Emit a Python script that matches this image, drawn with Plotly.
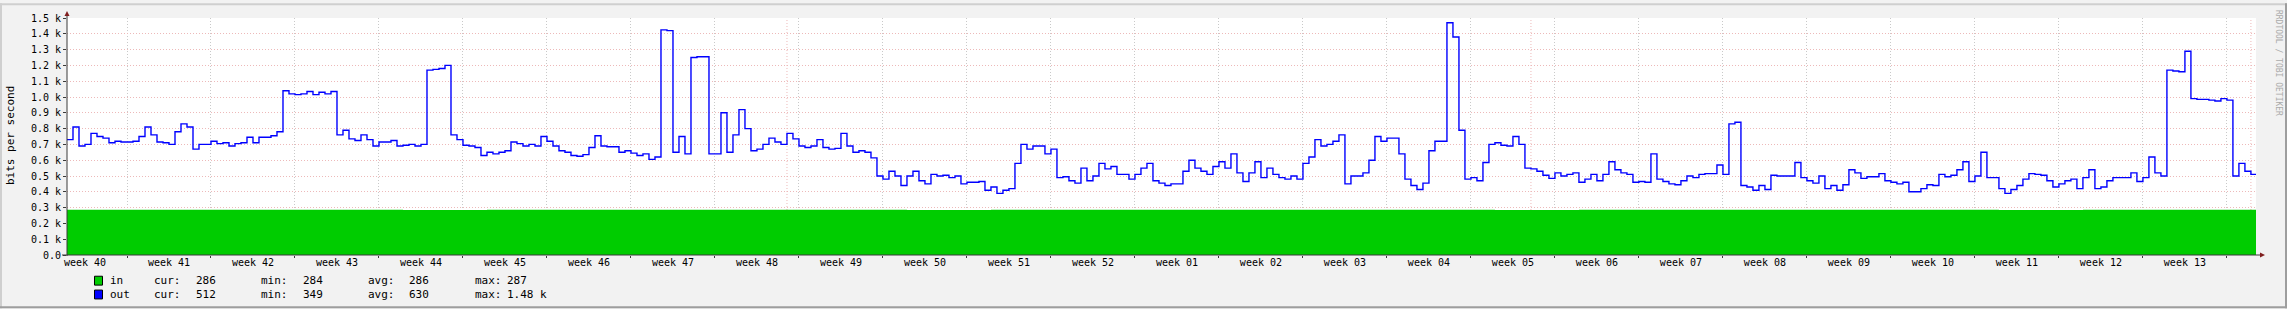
import pandas as pd
import plotly.graph_objects as go

# ---------------- data ----------------
START = "2019-10-02 00:00"
END = "2020-04-01 10:10"
OUT_STEP = "12h"
IN_STEP = "7D"

out_bits = [
    730, 810, 690, 700, 770, 750, 740, 710, 720, 715,
    715, 720, 750, 810, 760, 715, 710, 700, 780, 830,
    810, 670, 700, 700, 720, 705, 710, 690, 705, 710,
    745, 710, 745, 745, 755, 780, 1040, 1020, 1015, 1020,
    1035, 1015, 1030, 1020, 1035, 760, 790, 735, 725, 760,
    730, 690, 715, 715, 725, 690, 695, 700, 690, 700,
    1170, 1175, 1180, 1200, 760, 730, 695, 690, 680, 630,
    650, 640, 650, 660, 715, 705, 690, 700, 690, 750,
    720, 690, 660, 650, 630, 625, 635, 680, 755, 690,
    685, 685, 650, 660, 645, 630, 640, 605, 620, 1425,
    1420, 650, 750, 640, 1250, 1255, 1255, 640, 640, 900,
    650, 760, 920, 800, 660, 670, 700, 740, 715, 700,
    770, 735, 690, 680, 690, 730, 680, 670, 675, 770,
    690, 650, 660, 650, 615, 500, 480, 530, 500, 440,
    500, 530, 470, 450, 510, 500, 505, 490, 500, 450,
    460, 460, 465, 410, 430, 390, 410, 420, 580, 700,
    670, 690, 690, 640, 670, 490, 495, 470, 455, 550,
    470, 500, 580, 545, 560, 510, 510, 480, 510, 550,
    580, 470, 455, 440, 450, 450, 530, 600, 550, 530,
    510, 560, 590, 550, 640, 520, 465, 520, 590, 490,
    550, 510, 490, 480, 500, 480, 580, 620, 730, 690,
    700, 720, 760, 450, 500, 500, 520, 600, 750, 720,
    740, 740, 640, 480, 440, 415, 455, 660, 720, 720,
    1470, 1380, 790, 480, 490, 470, 585, 700, 710, 695,
    690, 750, 700, 550, 545, 530, 505, 485, 520, 500,
    510, 520, 460, 480, 510, 470, 510, 590, 540, 520,
    510, 460, 465, 460, 640, 480, 465, 450, 445, 470,
    500, 490, 510, 515, 515, 570, 510, 830, 840, 440,
    430, 410, 440, 415, 505, 500, 500, 500, 585, 490,
    470, 455, 500, 420, 440, 410, 445, 540, 520, 485,
    495, 495, 515, 470, 460, 450, 460, 400, 400, 420,
    445, 440, 510, 495, 505, 540, 590, 465, 500, 650,
    490, 490, 420, 390, 415, 440, 480, 515, 510, 505,
    470, 430, 450, 470, 480, 420, 490, 540, 420, 430,
    470, 490, 490, 490, 520, 465, 490, 620, 520, 500,
    1170, 1165, 1160, 1290, 990, 985, 985, 980, 975, 990,
    980, 500, 580, 530, 510,
]

in_bits = [286, 286, 287, 286, 285, 286, 286, 287, 286, 286,
           285, 286, 286, 287, 286, 286, 286, 285, 286, 287,
           286, 286, 286, 285, 286, 286, 286]

week_names = ["week 40", "week 41", "week 42", "week 43", "week 44", "week 45",
              "week 46", "week 47", "week 48", "week 49", "week 50", "week 51",
              "week 52", "week 01", "week 02", "week 03", "week 04", "week 05",
              "week 06", "week 07", "week 08", "week 09", "week 10", "week 11",
              "week 12", "week 13"]
WEEK_LABEL_START = "2019-10-03 12:00"   # mid-week of week 40
WEEK_GRID_START = "2019-10-07"          # first Monday
month_marks = ["2019-12-01", "2020-02-01", "2020-04-01"]

y_ticks = [0, 100, 200, 300, 400, 500, 600, 700, 800, 900, 1000, 1100, 1200, 1300, 1400, 1500]
y_tick_text = ["0.0", "0.1 k", "0.2 k", "0.3 k", "0.4 k", "0.5 k", "0.6 k", "0.7 k",
               "0.8 k", "0.9 k", "1.0 k", "1.1 k", "1.2 k", "1.3 k", "1.4 k", "1.5 k"]

legend_names = ["in", "out"]
legend_colors = ["#00CC00", "#0000FF"]
legend_cur = ["286", "512"]
legend_min = ["284", "349"]
legend_avg = ["286", "630"]
legend_max = ["287", "1.48 k"]

# ---------------- geometry helpers (pixel -> paper) ----------------
W, H = 2287, 309
PL, PR, PT, PB = 67, 2256, 15, 255
PW, PH = PR - PL, PB - PT


def px(x):
    return (x - PL) / PW


def py(y):
    return (PB - y) / PH


MONO = "DejaVu Sans Mono"
BACK = "#F2F2F2"
SHADEA = "#CFCFCF"
SHADEB = "#9E9E9E"
GRID = "#C9C9C9"
MGRID = "#EDB9B9"
ARROW = "#801F1F"
AXIS = "#3A3A3A"

t_out = pd.date_range(START, periods=len(out_bits) + 1, freq=OUT_STEP)
y_out = out_bits + [out_bits[-1]]
t_in = pd.date_range(START, periods=len(in_bits), freq=IN_STEP).append(pd.DatetimeIndex([END]))
y_in = in_bits + [in_bits[-1]]

week_label_times = pd.date_range(WEEK_LABEL_START, periods=len(week_names), freq="7D")
week_grid_times = pd.date_range(WEEK_GRID_START, periods=len(week_names), freq="7D")

fig = go.Figure()
fig.add_trace(go.Scatter(x=t_in, y=y_in, mode="lines", line_shape="hv",
                         line=dict(width=0, color="#00CC00"),
                         fill="tozeroy", fillcolor="#00CC00", hoverinfo="skip"))
fig.add_trace(go.Scatter(x=t_out, y=y_out, mode="lines", line_shape="hv",
                         line=dict(width=1.4, color="#0000FF")))

shapes = []
for m in month_marks:
    shapes.append(dict(type="line", xref="x", yref="paper", x0=m, x1=m, y0=0, y1=1,
                       line=dict(color=MGRID, width=1, dash="1px,2px"), layer="between"))
# axes
shapes.append(dict(type="line", xref="paper", yref="paper", x0=px(67), x1=px(67),
                   y0=py(256), y1=py(11), line=dict(color=AXIS, width=1)))
shapes.append(dict(type="line", xref="paper", yref="paper", x0=px(62), x1=px(2261),
                   y0=py(255), y1=py(255), line=dict(color=AXIS, width=1)))
# arrows
shapes.append(dict(type="path", xref="paper", yref="paper",
                   path=f"M {px(64.5)} {py(13)} L {px(69.5)} {py(13)} L {px(67)} {py(8)} Z",
                   fillcolor=ARROW, line=dict(width=0)))
shapes.append(dict(type="path", xref="paper", yref="paper",
                   path=f"M {px(2260)} {py(252.5)} L {px(2260)} {py(257.5)} L {px(2265)} {py(255)} Z",
                   fillcolor=ARROW, line=dict(width=0)))
# 3D border
shapes.append(dict(type="rect", xref="paper", yref="paper", x0=px(0), x1=px(W), y0=py(0), y1=py(2),
                   fillcolor=SHADEA, line=dict(width=0)))
shapes.append(dict(type="rect", xref="paper", yref="paper", x0=px(0), x1=px(2), y0=py(0), y1=py(H),
                   fillcolor=SHADEA, line=dict(width=0)))
shapes.append(dict(type="rect", xref="paper", yref="paper", x0=px(0), x1=px(W), y0=py(H - 2), y1=py(H),
                   fillcolor=SHADEB, line=dict(width=0)))
shapes.append(dict(type="rect", xref="paper", yref="paper", x0=px(W - 2), x1=px(W), y0=py(0), y1=py(H),
                   fillcolor=SHADEB, line=dict(width=0)))

annotations = []
annotations.append(dict(text="bits per second", xref="paper", yref="paper", x=px(10.5), y=py(134),
                        textangle=-90, showarrow=False, font=dict(family=MONO, size=11, color="black"),
                        xanchor="center", yanchor="middle"))
annotations.append(dict(text="RRDTOOL / TOBI OETIKER", xref="paper", yref="paper", x=px(2278.5), y=py(60),
                        textangle=90, showarrow=False, font=dict(family=MONO, size=8, color="#AAAAAA"),
                        xanchor="center", yanchor="middle"))

row_y = [281, 295]
col_x = [109, 153, 195, 260, 302, 367, 408, 474, 506]
for i, name in enumerate(legend_names):
    yc = row_y[i]
    shapes.append(dict(type="rect", xref="paper", yref="paper", x0=px(94.5), x1=px(102.5),
                       y0=py(yc - 4.5), y1=py(yc + 4.5), fillcolor=legend_colors[i],
                       line=dict(color="black", width=1)))
    pieces = [name, "cur:", legend_cur[i], "min:", legend_min[i], "avg:", legend_avg[i],
              "max:", legend_max[i]]
    for xx, txt in zip(col_x, pieces):
        annotations.append(dict(text=txt, xref="paper", yref="paper", x=px(xx), y=py(yc),
                                showarrow=False, xanchor="left", yanchor="middle", borderpad=0,
                                font=dict(family=MONO, size=11, color="black")))

fig.update_layout(
    width=W, height=H,
    margin=dict(l=PL, r=W - PR, t=PT, b=H - PB, pad=0),
    paper_bgcolor=BACK, plot_bgcolor="white",
    showlegend=False,
    shapes=shapes, annotations=annotations,
    xaxis=dict(type="date", range=[START, END], tickmode="array",
               tickvals=week_label_times, ticktext=week_names, ticks="",
               showgrid=False, zeroline=False, showline=False,
               tickfont=dict(family=MONO, size=10, color="black"),
               minor=dict(tickmode="array", tickvals=week_grid_times, showgrid=True,
                          gridcolor=GRID, griddash="1px,2px", gridwidth=1,
                          ticks="outside", ticklen=2, tickcolor=AXIS)),
    yaxis=dict(range=[0, 1500], tickmode="array", tickvals=y_ticks, ticktext=y_tick_text,
               showgrid=True, gridcolor=MGRID, griddash="1px,2px", gridwidth=1,
               zeroline=False, showline=False, ticks="outside", ticklen=3, tickcolor=AXIS,
               tickfont=dict(family=MONO, size=10, color="black")),
)

fig.write_html("out.html")
